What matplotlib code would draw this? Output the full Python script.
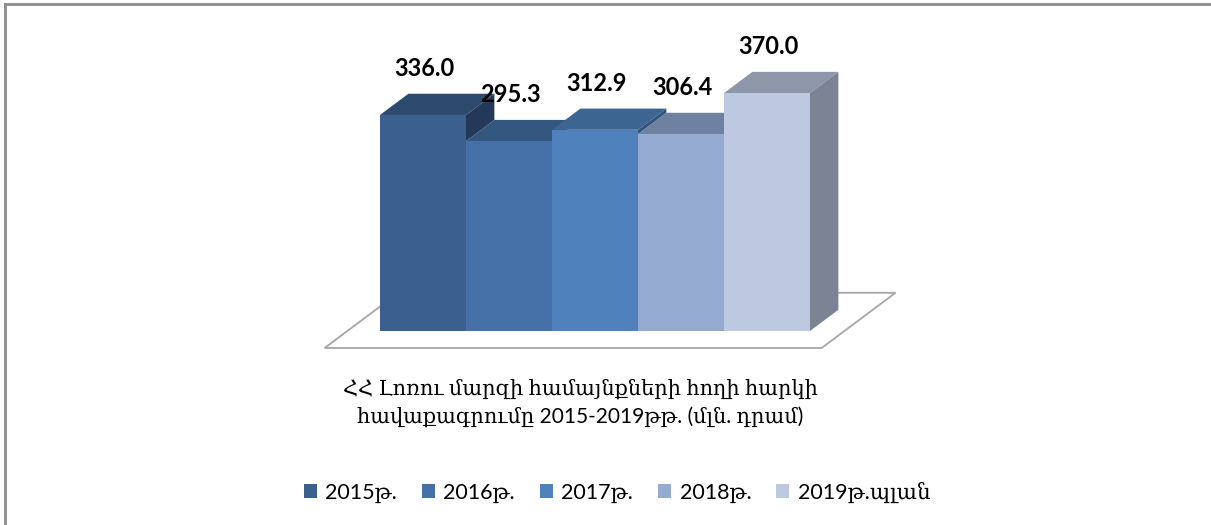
import matplotlib
matplotlib.use("Agg")
import matplotlib.pyplot as plt
from matplotlib.patches import Polygon
from matplotlib.lines import Line2D

# data
years = ["2015թ.", "2016թ.", "2017թ.", "2018թ.", "2019թ.պլան"]
values = [336.0, 295.3, 312.9, 306.4, 370.0]
title = "ՀՀ Լոռու մարզի համայնքների հողի հարկի\nհավաքագրումը 2015-2019թթ. (մլն. դրամ)"

front_colors = ["#3B5F8E", "#4571A8", "#4F81BD", "#95AAD1", "#BDC9E1"]
top_colors = ["#2C4A6E", "#34577F", "#3D6591", "#6F81A0", "#8E97AA"]
side_colors = ["#24395A", "#2B4868", "#33547A", "#5E6E88", "#7B8394"]

# pseudo 3d geometry (x in bar slots, y in value units)
DX, DY = 0.33, 33.0
W, H = 1211, 525
px_x, px_y = 86.0, 0.643      # pixels per unit
x0_px, y0_px = 380, 331        # pixel of (0, 0)

fig = plt.figure(figsize=(W / 100, H / 100), dpi=100)
ax = fig.add_axes([0, 0, 1, 1])
ax.set_xlim(-x0_px / px_x, (W - x0_px) / px_x)
ax.set_ylim((y0_px - H) / px_y, y0_px / px_y)
ax.axis("off")

n = len(values)

# floor
fz0, fz1 = -0.8, 1.8
fx0, fx1 = -0.38, n + 0.40
floor = [(fx0 + fz0 * DX, fz0 * DY), (fx1 + fz0 * DX, fz0 * DY),
         (fx1 + fz1 * DX, fz1 * DY), (fx0 + fz1 * DX, fz1 * DY)]
ax.add_patch(Polygon(floor, closed=True, facecolor="white",
                     edgecolor="#A6A6A6", linewidth=1.3, zorder=1))

# tops, shorter first so taller tops lie on top
for i in sorted(range(n), key=lambda k: values[k]):
    h = values[i]
    top = [(i, h), (i + 1, h), (i + 1 + DX, h + DY), (i + DX, h + DY)]
    ax.add_patch(Polygon(top, closed=True, facecolor=top_colors[i],
                         edgecolor="none", zorder=2))

# right sides, only the part above the next bar
for i in range(n):
    h = values[i]
    low = values[i + 1] if i + 1 < n else 0
    if low >= h:
        continue
    side = [(i + 1, low), (i + 1 + DX, low + DY), (i + 1 + DX, h + DY), (i + 1, h)]
    ax.add_patch(Polygon(side, closed=True, facecolor=side_colors[i],
                         edgecolor="none", zorder=3))

bars = ax.bar(range(n), values, width=1.0, align="edge", color=front_colors,
              edgecolor="none", zorder=4)

for i, v in enumerate(values):
    ax.text(i + 0.52, v + 72, f"{v:.1f}", ha="center", va="center",
            fontsize=17, fontweight="bold", family="Lato", zorder=6)

arm = ["Lato", "DejaVu Serif"]
fig.text(580 / W, 1 - 403 / H, title, ha="center", va="center",
         fontsize=15, family=arm, linespacing=1.4)

leg = fig.legend(bars, years, loc="center", bbox_to_anchor=(617 / W, 1 - 492 / H),
                 ncol=5, frameon=False, handlelength=0.6, handleheight=0.6,
                 handletextpad=0.4, columnspacing=1.15,
                 prop={"family": arm, "size": 15.5})

# outer frame
fig.add_artist(Line2D([5 / W, 5 / W], [0, 1 - 4 / H], color="#8C8C8C", lw=2))
fig.add_artist(Line2D([5 / W, 1], [1 - 4 / H, 1 - 4 / H], color="#8C8C8C", lw=2))

fig.savefig("out.png", dpi=100)
plt.close(fig)
